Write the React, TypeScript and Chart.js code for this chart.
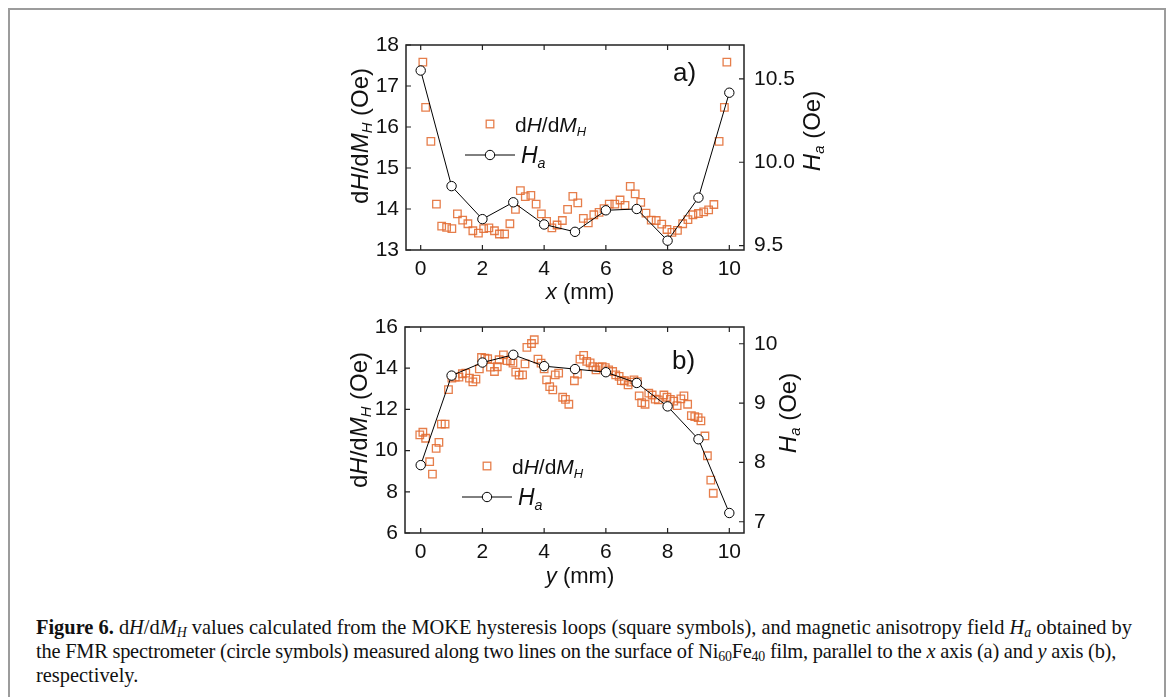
import React, { useEffect, useRef } from 'react';
import { Chart, registerables } from 'chart.js';

Chart.register(...registerables);

// ---------- data ----------
const xTicks = [0, 2, 4, 6, 8, 10];
const topLeftTicks = [13, 14, 15, 16, 17, 18];
const topRightTicks = [9.5, 10.0, 10.5];
const botLeftTicks = [6, 8, 10, 12, 14, 16];
const botRightTicks = [7, 8, 9, 10];

const haX = [0, 1, 2, 3, 4, 5, 6, 7, 8, 9, 10];
const topHa = [10.55, 9.857, 9.659, 9.76, 9.627, 9.583, 9.712, 9.72, 9.53, 9.788, 10.417];
const botHa = [7.954, 9.463, 9.683, 9.814, 9.622, 9.573, 9.52, 9.339, 8.944, 8.39, 7.147];

const topSqX = [0.07, 0.16, 0.33, 0.51, 0.68, 0.84, 1.01, 1.19, 1.36, 1.53, 1.69, 1.87, 2.04, 2.21, 2.39, 2.55, 2.72, 2.89, 3.07, 3.23, 3.39, 3.57, 3.74, 3.91, 4.08, 4.25, 4.42, 4.59, 4.76, 4.93, 5.09, 5.27, 5.43, 5.61, 5.78, 5.94, 6.11, 6.29, 6.46, 6.62, 6.79, 6.95, 7.13, 7.30, 7.47, 7.63, 7.81, 7.98, 8.14, 8.32, 8.49, 8.66, 8.82, 9.00, 9.17, 9.33, 9.50, 9.67, 9.84, 9.92];
const topSqY = [17.58, 16.48, 15.65, 14.12, 13.58, 13.55, 13.52, 13.88, 13.73, 13.64, 13.47, 13.41, 13.52, 13.54, 13.47, 13.39, 13.39, 13.64, 13.99, 14.45, 14.30, 14.33, 14.12, 13.88, 13.70, 13.54, 13.61, 13.72, 13.99, 14.31, 14.15, 13.77, 13.66, 13.86, 13.92, 14.01, 14.12, 14.12, 14.22, 14.09, 14.55, 14.37, 14.16, 13.90, 13.73, 13.72, 13.63, 13.50, 13.43, 13.48, 13.64, 13.74, 13.86, 13.89, 13.93, 13.98, 14.11, 15.65, 16.48, 17.58];

const botSqX = [-0.03, 0.07, 0.16, 0.29, 0.38, 0.50, 0.59, 0.67, 0.79, 0.90, 1.01, 1.12, 1.24, 1.35, 1.46, 1.58, 1.69, 1.79, 1.90, 1.97, 2.08, 2.17, 2.26, 2.39, 2.48, 2.54, 2.68, 2.80, 2.91, 2.99, 3.08, 3.19, 3.30, 3.38, 3.44, 3.59, 3.68, 3.80, 3.90, 4.00, 4.08, 4.18, 4.28, 4.36, 4.47, 4.60, 4.69, 4.80, 4.98, 5.08, 5.16, 5.28, 5.38, 5.49, 5.58, 5.68, 5.78, 5.88, 5.98, 6.09, 6.22, 6.32, 6.43, 6.50, 6.60, 6.72, 6.81, 6.91, 7.02, 7.08, 7.16, 7.27, 7.39, 7.50, 7.60, 7.70, 7.88, 7.98, 8.09, 8.20, 8.31, 8.43, 8.53, 8.65, 8.77, 8.88, 8.99, 9.08, 9.21, 9.29, 9.40, 9.48];
const botSqY = [10.76, 10.89, 10.60, 9.46, 8.86, 10.11, 10.40, 11.29, 11.29, 12.96, 13.52, 13.57, 13.57, 13.73, 13.76, 13.52, 13.34, 13.47, 13.97, 14.52, 14.49, 14.46, 14.05, 13.84, 14.07, 14.41, 14.65, 14.37, 14.35, 14.25, 13.81, 13.66, 13.68, 14.21, 15.01, 15.20, 15.38, 14.44, 14.25, 13.97, 13.43, 13.11, 12.95, 13.68, 13.76, 12.59, 12.49, 12.25, 13.39, 13.71, 14.44, 14.62, 14.33, 14.26, 14.08, 13.92, 14.05, 14.08, 14.03, 13.92, 13.84, 13.68, 13.60, 13.40, 13.39, 13.19, 13.32, 13.43, 13.35, 12.66, 12.33, 12.25, 12.79, 12.70, 12.50, 12.46, 12.70, 12.59, 12.49, 12.40, 12.18, 12.51, 12.66, 12.25, 11.70, 11.65, 11.60, 11.44, 10.71, 9.75, 8.57, 7.93];

// ---------- style ----------
const FONT = "'Liberation Sans', Arial, sans-serif";
const SQ_COLOR = 'rgba(226,108,50,0.88)';
const AXIS_COLOR = '#222';
const TICK_FONT_SIZE = 21;
const TITLE_FONT_SIZE = 24;

type Seg = { t: string; it?: boolean; sub?: boolean };

function segFont(size: number, s: Seg) {
  const sz = s.sub ? size * 0.62 : size;
  return `${s.it ? 'italic ' : ''}${sz}px ${FONT}`;
}

function drawSegs(ctx: CanvasRenderingContext2D, segs: Seg[], x: number, y: number, size: number, align: 'left' | 'center', rot = 0) {
  ctx.save();
  ctx.translate(x, y);
  if (rot) ctx.rotate(rot);
  ctx.textBaseline = 'alphabetic';
  ctx.textAlign = 'left';
  ctx.fillStyle = '#111';
  let total = 0;
  for (const s of segs) {
    ctx.font = segFont(size, s);
    total += ctx.measureText(s.t).width;
  }
  let cx = align === 'center' ? -total / 2 : 0;
  const base = size * 0.36;
  for (const s of segs) {
    ctx.font = segFont(size, s);
    ctx.fillText(s.t, cx, base + (s.sub ? size * 0.2 : 0));
    cx += ctx.measureText(s.t).width;
  }
  ctx.restore();
}

// decoration positions in page coordinates
type Deco = {
  leftTitle: [number, number];
  rightTitle: [number, number];
  xTitle: [number, number];
  xLetter: string;
  panel: [number, number, string];
  legSq: [number, number, number];
  legLine: [number, number, number, number];
};

const dHSegs: Seg[] = [{ t: 'd' }, { t: 'H', it: true }, { t: '/d' }, { t: 'M', it: true }, { t: 'H', it: true, sub: true }];
const haSegs: Seg[] = [{ t: 'H', it: true }, { t: 'a', it: true, sub: true }];

function makePlugin(d: Deco, ox: number, oy: number) {
  return {
    id: 'deco',
    afterDraw(chart: any) {
      const ctx: CanvasRenderingContext2D = chart.ctx;
      const a = chart.chartArea;
      ctx.save();
      ctx.strokeStyle = AXIS_COLOR;
      ctx.lineWidth = 1.5;
      ctx.strokeRect(a.left, a.top, a.right - a.left, a.bottom - a.top);
      const TL = 5;
      ctx.lineWidth = 1.2;
      ctx.beginPath();
      for (const t of chart.scales.x.ticks) {
        const px = chart.scales.x.getPixelForValue(t.value);
        ctx.moveTo(px, a.bottom); ctx.lineTo(px, a.bottom - TL);
        ctx.moveTo(px, a.top); ctx.lineTo(px, a.top + TL);
      }
      for (const t of chart.scales.y.ticks) {
        const py = chart.scales.y.getPixelForValue(t.value);
        ctx.moveTo(a.left, py); ctx.lineTo(a.left + TL, py);
      }
      for (const t of chart.scales.y2.ticks) {
        const py = chart.scales.y2.getPixelForValue(t.value);
        ctx.moveTo(a.right, py); ctx.lineTo(a.right - TL, py);
      }
      ctx.stroke();
      ctx.restore();

      drawSegs(ctx, [...dHSegs, { t: ' (Oe)' }], d.leftTitle[0] - ox, d.leftTitle[1] - oy, TITLE_FONT_SIZE, 'center', -Math.PI / 2);
      drawSegs(ctx, [...haSegs, { t: ' (Oe)' }], d.rightTitle[0] - ox, d.rightTitle[1] - oy, TITLE_FONT_SIZE, 'center', -Math.PI / 2);
      drawSegs(ctx, [{ t: d.xLetter, it: true }, { t: ' (mm)' }], d.xTitle[0] - ox, d.xTitle[1] - oy, 22, 'center');
      drawSegs(ctx, [{ t: d.panel[2] }], d.panel[0] - ox, d.panel[1] - oy, 26, 'left');

      ctx.save();
      const [sx, sy, stx] = d.legSq;
      ctx.strokeStyle = SQ_COLOR;
      ctx.lineWidth = 1.3;
      ctx.strokeRect(sx - ox - 3.8, sy - oy - 3.8, 7.6, 7.6);
      const [l0, l1, ly, ltx] = d.legLine;
      ctx.strokeStyle = '#000';
      ctx.lineWidth = 1;
      ctx.beginPath();
      ctx.moveTo(l0 - ox, ly - oy); ctx.lineTo(l1 - ox, ly - oy);
      ctx.stroke();
      ctx.beginPath();
      ctx.arc((l0 + l1) / 2 - ox, ly - oy, 4.7, 0, Math.PI * 2);
      ctx.fillStyle = '#fff';
      ctx.fill();
      ctx.stroke();
      ctx.restore();
      drawSegs(ctx, dHSegs, stx - ox, sy - oy, 21, 'left');
      drawSegs(ctx, haSegs, ltx - ox, ly - oy, 23, 'left');
    },
  };
}

type PanelCfg = {
  ha: number[];
  sqX: number[];
  sqY: number[];
  xMin: number; xMax: number;
  yMin: number; yMax: number; yTicks: number[];
  y2Min: number; y2Max: number; y2Ticks: number[]; y2Fmt: (v: number) => string;
  left: number; top: number; width: number; height: number;
  leftW: number; rightW: number; padTop: number; xH: number;
  deco: Deco;
};

function PanelChart({ cfg }: { cfg: PanelCfg }) {
  const ref = useRef<HTMLCanvasElement>(null);
  useEffect(() => {
    if (!ref.current) return;
    const tickFont = { family: FONT, size: TICK_FONT_SIZE };
    const chart = new Chart(ref.current, {
      type: 'scatter',
      data: {
        datasets: [
          {
            label: 'Ha',
            data: haX.map((x, i) => ({ x, y: cfg.ha[i] })),
            yAxisID: 'y2',
            showLine: true,
            borderColor: '#000',
            borderWidth: 1,
            pointRadius: 4.7,
            pointBackgroundColor: '#fff',
            pointBorderColor: '#000',
            pointBorderWidth: 1,
          } as any,
          {
            label: 'dH/dMH',
            data: cfg.sqX.map((x, i) => ({ x, y: cfg.sqY[i] })),
            yAxisID: 'y',
            showLine: false,
            pointStyle: 'rect',
            pointRadius: 5.3,
            pointBackgroundColor: 'rgba(0,0,0,0)',
            pointBorderColor: SQ_COLOR,
            pointBorderWidth: 1.3,
          } as any,
        ],
      },
      options: {
        animation: false,
        responsive: false,
        devicePixelRatio: 1,
        layout: { padding: { top: cfg.padTop, left: 0, right: 0, bottom: 0 } },
        plugins: { legend: { display: false }, tooltip: { enabled: false } },
        scales: {
          x: {
            type: 'linear',
            min: cfg.xMin,
            max: cfg.xMax,
            afterBuildTicks: (s: any) => { s.ticks = xTicks.map((v) => ({ value: v })); },
            afterFit: (s: any) => { s.height = cfg.xH; },
            grid: { display: false, drawTicks: false },
            border: { display: false },
            ticks: { font: tickFont, color: '#111', padding: 7, maxRotation: 0, autoSkip: false, callback: (v: any) => String(v) },
          },
          y: {
            type: 'linear',
            position: 'left',
            min: cfg.yMin,
            max: cfg.yMax,
            afterBuildTicks: (s: any) => { s.ticks = cfg.yTicks.map((v) => ({ value: v })); },
            afterFit: (s: any) => { s.width = cfg.leftW; },
            grid: { display: false, drawTicks: false },
            border: { display: false },
            ticks: { font: tickFont, color: '#111', padding: 7, autoSkip: false, callback: (v: any) => String(v) },
          },
          y2: {
            type: 'linear',
            position: 'right',
            min: cfg.y2Min,
            max: cfg.y2Max,
            afterBuildTicks: (s: any) => { s.ticks = cfg.y2Ticks.map((v) => ({ value: v })); },
            afterFit: (s: any) => { s.width = cfg.rightW; },
            grid: { display: false, drawTicks: false },
            border: { display: false },
            ticks: { font: tickFont, color: '#111', padding: 10, autoSkip: false, callback: (v: any) => cfg.y2Fmt(Number(v)) },
          },
        },
      },
      plugins: [makePlugin(cfg.deco, cfg.left, cfg.top)],
    } as any);
    return () => chart.destroy();
  }, [cfg]);
  return (
    <canvas
      ref={ref}
      width={cfg.width}
      height={cfg.height}
      style={{ position: 'absolute', left: cfg.left, top: cfg.top, width: cfg.width, height: cfg.height }}
    />
  );
}

const topCfg: PanelCfg = {
  ha: topHa, sqX: topSqX, sqY: topSqY,
  xMin: -0.476, xMax: 10.476,
  yMin: 13, yMax: 18, yTicks: topLeftTicks,
  y2Min: 9.474, y2Max: 10.703, y2Ticks: topRightTicks, y2Fmt: (v) => v.toFixed(1),
  left: 320, top: 15, width: 520, height: 295,
  leftW: 86, rightW: 96, padTop: 30, xH: 60,
  deco: {
    leftTitle: [359, 136],
    rightTitle: [811, 131],
    xTitle: [580, 291],
    xLetter: 'x',
    panel: [673, 72, 'a)'],
    legSq: [490, 124, 515],
    legLine: [465, 515, 155, 521],
  },
};

const botCfg: PanelCfg = {
  ha: botHa, sqX: botSqX, sqY: botSqY,
  xMin: -0.509, xMax: 10.476,
  yMin: 6, yMax: 16, yTicks: botLeftTicks,
  y2Min: 6.81, y2Max: 10.282, y2Ticks: botRightTicks, y2Fmt: (v) => String(v),
  left: 320, top: 297, width: 520, height: 295,
  leftW: 85, rightW: 96, padTop: 30, xH: 59,
  deco: {
    leftTitle: [358, 420],
    rightTitle: [787, 413],
    xTitle: [580, 575],
    xLetter: 'y',
    panel: [672, 360, 'b)'],
    legSq: [487, 466, 512],
    legLine: [462, 512, 497, 518],
  },
};

const subStyle: React.CSSProperties = { fontSize: '0.68em', lineHeight: 0, verticalAlign: '-0.25em' };

export default function App() {
  return (
    <div style={{ position: 'fixed', left: 0, top: 0, width: 1171, height: 697, overflow: 'hidden', background: '#fff' }}>
      <div style={{ position: 'absolute', left: 8, top: 8, width: 1158, height: 720, border: '2px solid #9c9c9c', boxSizing: 'border-box' }} />
      <PanelChart cfg={topCfg} />
      <PanelChart cfg={botCfg} />
      <div
        style={{
          position: 'absolute', left: 36, top: 615, fontFamily: "'Liberation Serif', 'Times New Roman', serif",
          fontSize: 20.4, lineHeight: '24px', color: '#111', whiteSpace: 'nowrap',
        }}
      >
        <b>Figure 6.</b> d<i>H</i>/d<i>M<sub style={subStyle}>H</sub></i> values calculated from the MOKE hysteresis loops (square symbols), and magnetic anisotropy field <i>H<sub style={subStyle}>a</sub></i> obtained by<br />
        <span style={{ letterSpacing: '-0.22px' }}>the FMR spectrometer (circle symbols) measured along two lines on the surface of Ni<sub style={subStyle}>60</sub>Fe<sub style={subStyle}>40</sub> film, parallel to the <i>x</i> axis (a) and <i>y</i> axis (b),</span><br />
        respectively.
      </div>
    </div>
  );
}
